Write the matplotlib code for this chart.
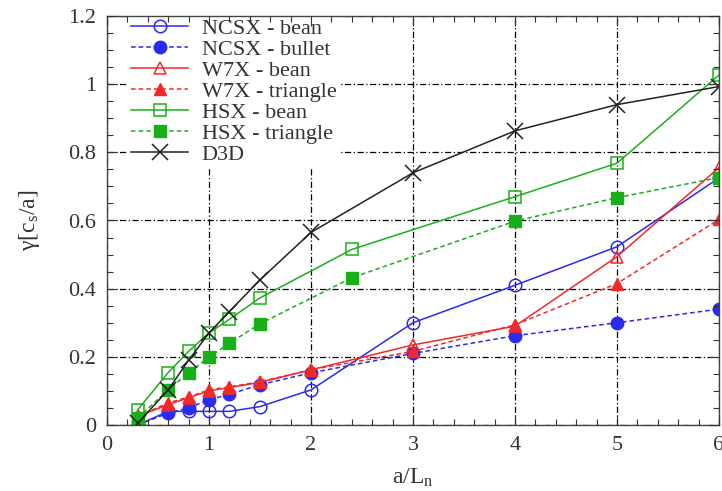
import matplotlib
matplotlib.use("Agg")
import matplotlib.pyplot as plt
from matplotlib.ticker import MultipleLocator

plt.rcParams['font.family'] = ['Liberation Serif', 'DejaVu Serif']
plt.rcParams['mathtext.fontset'] = 'custom'
plt.rcParams['mathtext.rm'] = 'Liberation Serif'
plt.rcParams['mathtext.it'] = 'Liberation Serif'

# valores
x_std = [0.3, 0.6, 0.8, 1.0, 1.2, 1.5, 2, 3, 4, 5, 6]
x_hsx = [0.3, 0.6, 0.8, 1.0, 1.2, 1.5, 2.4, 4, 5, 6]

ncsx_bean = [0.0, 0.04, 0.04, 0.04, 0.04, 0.054, 0.103, 0.30, 0.41, 0.523, 0.725]
ncsx_bullet = [0.0, 0.035, 0.05, 0.074, 0.09, 0.118, 0.153, 0.21, 0.262, 0.30, 0.34]
w7x_bean = [0.025, 0.06, 0.08, 0.10, 0.11, 0.125, 0.162, 0.235, 0.29, 0.494, 0.755]
w7x_triangle = [0.025, 0.065, 0.082, 0.103, 0.112, 0.127, 0.162, 0.216, 0.294, 0.415, 0.603]
hsx_bean = [0.044, 0.154, 0.216, 0.27, 0.31, 0.373, 0.515, 0.67, 0.768, 1.027]
hsx_triangle = [0.02, 0.103, 0.153, 0.199, 0.24, 0.297, 0.432, 0.598, 0.667, 0.726]
d3d = [0.005, 0.103, 0.19, 0.27, 0.333, 0.426, 0.565, 0.74, 0.863, 0.94, 0.993]

xticks = [0, 1, 2, 3, 4, 5, 6]
yticks = [0, 0.2, 0.4, 0.6, 0.8, 1, 1.2]
ylabels = ['0', '0.2', '0.4', '0.6', '0.8', '1', '1.2']

azul = '#2a2af0'
rojo = '#f02a2a'
verde = '#18b018'

fig = plt.figure(figsize=(7.22, 4.91), dpi=100)
ax = fig.add_axes([107/722, 66/491, 612/722, 409/491])

ms = 9
lw = 1.1
dash = (0, (3, 2))
ax.plot(x_std, ncsx_bean, color=azul, lw=lw, marker='o', ms=ms, mfc='none', mew=1.1, label='NCSX - bean')
ax.plot(x_std, ncsx_bullet, color=azul, lw=lw, ls=dash, marker='o', ms=ms, mfc=azul, label='NCSX - bullet')
ax.plot(x_std, w7x_bean, color=rojo, lw=lw, marker='^', ms=ms, mfc='none', mew=1.1, label='W7X - bean')
ax.plot(x_std, w7x_triangle, color=rojo, lw=lw, ls=dash, marker='^', ms=ms, mfc=rojo, label='W7X - triangle')
ax.plot(x_hsx, hsx_bean, color=verde, lw=lw, marker='s', ms=ms, mfc='none', mew=1.1, label='HSX - bean')
ax.plot(x_hsx, hsx_triangle, color=verde, lw=lw, ls=dash, marker='s', ms=ms, mfc=verde, label='HSX - triangle')
ax.plot(x_std, d3d, color='#222222', lw=lw, marker='x', ms=ms + 2, mew=1.1, label='D3D')

# rejilla manual para que la leyenda la tape pero no tape los ticks
for v in xticks:
    ax.axvline(v, color='black', ls=(0, (5, 2, 1, 2)), lw=0.9, zorder=0.5)
for v in yticks:
    ax.axhline(v, color='black', ls=(0, (5, 2, 1, 2)), lw=0.9, zorder=0.5)

ax.set_xlim(0, 6)
ax.set_ylim(0, 1.2)
ax.set_xticks(xticks)
ax.set_yticks(yticks)
ax.set_yticklabels(ylabels)
ax.xaxis.set_minor_locator(MultipleLocator(0.2))
ax.yaxis.set_minor_locator(MultipleLocator(0.05))
ax.tick_params(which='both', direction='in', top=True, right=True, labelsize=16, colors='#333333')
ax.tick_params(which='major', length=7, width=0.8, pad=8)
ax.tick_params(which='minor', length=4, width=0.8)
ax.set_axisbelow(False)
for s in ax.spines.values():
    s.set_color('#444444')
    s.set_linewidth(1.0)

ax.set_xlabel('a/L$_\\mathrm{n}$', fontsize=17, color='#333333', labelpad=8)
ax.set_ylabel('\u03b3[c$_\\mathrm{s}$/a]', fontsize=17, color='#333333', labelpad=19)

leg = ax.legend(loc='upper left', bbox_to_anchor=(0.035, 1.0), fontsize=16, handlelength=2.6,
                labelspacing=0.02, handletextpad=0.6, borderpad=0.1, borderaxespad=0,
                frameon=True, fancybox=False, framealpha=1, edgecolor='none', facecolor='white')
leg.set_zorder(1.5)
for t in leg.get_texts():
    t.set_color('#333333')

fig.savefig('out.png', dpi=100)
